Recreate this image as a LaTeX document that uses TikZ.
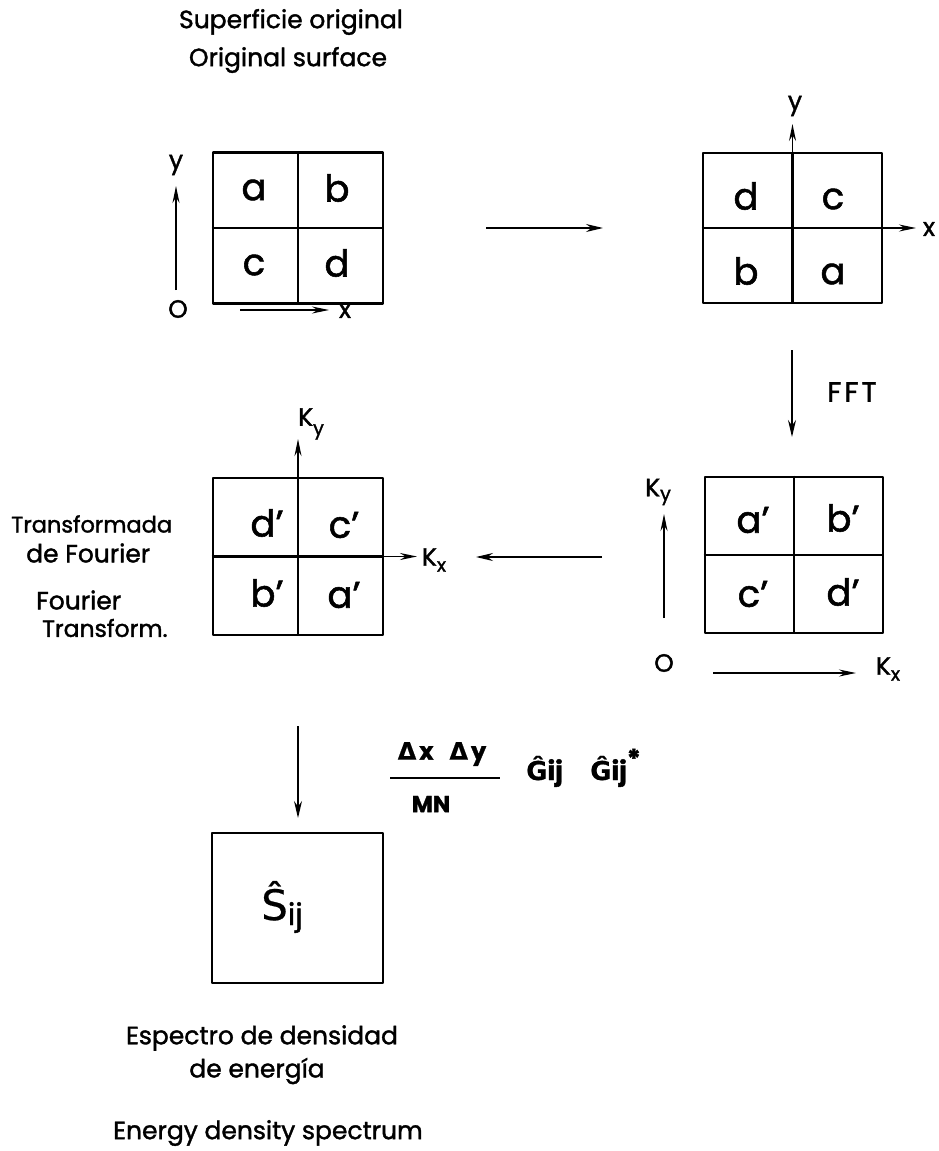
\documentclass[tikz,border=0pt]{standalone}
\usepackage{fontspec}
\setmainfont{Poppins}[FakeBold=1.5]
\newfontfamily\dv{DejaVu Sans}[FakeBold=0.5]
\usetikzlibrary{arrows.meta}
\tikzset{
  gridbox/.style={draw, line width=2.8pt, inner sep=0pt, line join=round},
  midline/.style={line width=2.3pt},
  cell/.style={font=\fontsize{37}{37}\selectfont, inner sep=0pt},
  axis/.style={line width=1.5pt, -{Stealth[length=17pt,width=7pt]}},
  flow/.style={line width=1.5pt, -{Stealth[length=17pt,width=8pt]}},
  lbl/.style={font=\fontsize{25}{28}\selectfont, inner sep=0pt},
  axlbl/.style={font=\fontsize{25}{25}\selectfont, inner sep=0pt},
  formula/.style={font=\fontsize{26}{26}\selectfont\bfseries, inner sep=0pt},
}
\newcommand{\sbx}{\fontsize{19}{19}\selectfont}
\begin{document}
\begin{tikzpicture}[x=1pt,y=-1pt]
\useasboundingbox (0,0) rectangle (938,1151);

% titles
\node[lbl] (t1) at (291,22) {Superficie original};
\node[lbl] (t2) at (288,60) {Original surface};

% grid A
\node[gridbox, minimum width=170pt, minimum height=151pt] (A) at (298,228) {};
\draw[midline] (A.north) -- (A.south);
\draw[midline] (A.west) -- (A.east);
\node[cell] (Aa) at (254,190) {a};
\node[cell] (Ab) at (337,188) {b};
\node[cell] (Ac) at (254,265) {c};
\node[cell] (Ad) at (337,263) {d};
\coordinate (Ay0) at (176,290);
\coordinate (Ay1) at (176,186);
\draw[axis] (Ay0) -- (Ay1);
\node[axlbl] (Aylbl) at (176,165) {y};
\node[axlbl] (AO) at (178,309) {O};
\coordinate (Ax0) at (240,310);
\coordinate (Ax1) at (329,310);
\draw[axis] (Ax0) -- (Ax1);
\node[axlbl] (Axlbl) at (345,311) {x};

% arrow A -> B
\coordinate (ab0) at (486,228);
\coordinate (ab1) at (603,228);
\draw[flow] (ab0) -- (ab1);

% grid B
\node[gridbox, minimum width=179pt, minimum height=150pt] (B) at (792.5,228) {};
\draw[midline] (B.north) -- (B.south);
\draw[midline] (B.west) -- (B.east);
\node[cell] (Bd) at (746,196) {d};
\node[cell] (Bc) at (833,199) {c};
\node[cell] (Bb) at (746,271) {b};
\node[cell] (Ba) at (833,274) {a};
\coordinate (By1) at (792.5,124);
\draw[axis] (B.north) -- (By1);
\node[axlbl] (Bylbl) at (795,106) {y};
\coordinate (Bx1) at (916,228);
\draw[axis] (B.east) -- (Bx1);
\node[axlbl] (Bxlbl) at (929,229) {x};

% FFT
\coordinate (f0) at (792,350);
\coordinate (f1) at (792,437);
\draw[flow] (f0) -- (f1);
\node[font=\fontsize{28}{28}\selectfont, inner sep=0pt] (fft) at (852,392) {F\kern3pt F\kern3pt T};

% grid D (right middle)
\node[gridbox, minimum width=178pt, minimum height=156pt] (D) at (794,555) {};
\draw[midline] (D.north) -- (D.south);
\draw[midline] (D.west) -- (D.east);
\node[cell] (Da) at (753,520) {a’};
\node[cell] (Db) at (843,518) {b’};
\node[cell] (Dc) at (753,594) {c’};
\node[cell] (Dd) at (843,592) {d’};
\coordinate (Dy0) at (664,618);
\coordinate (Dy1) at (664,514);
\draw[axis] (Dy0) -- (Dy1);
\node[axlbl] (Dylbl) at (658,492) {K\raisebox{-4pt}{\sbx y}};
\node[axlbl] (DO) at (664,663) {O};
\coordinate (Dx0) at (713,673);
\coordinate (Dx1) at (856,673);
\draw[axis] (Dx0) -- (Dx1);
\node[axlbl] (Dxlbl) at (888,669) {K\raisebox{-6pt}{\sbx x}};

% arrow D -> C
\coordinate (dc0) at (602,557);
\coordinate (dc1) at (476,557);
\draw[flow] (dc0) -- (dc1);

% grid C (left middle)
\node[gridbox, minimum width=170pt, minimum height=157pt] (C) at (298,556.5) {};
\draw[midline] (C.north) -- (C.south);
\draw[midline] (C.west) -- (C.east);
\node[cell] (Cd) at (267,523) {d’};
\node[cell] (Cc) at (344,525) {c’};
\node[cell] (Cb) at (267,593) {b’};
\node[cell] (Ca) at (344,595) {a’};
\coordinate (Cy1) at (298,439);
\draw[axis] (C.north) -- (Cy1);
\node[axlbl] (Cylbl) at (311,424) {K\raisebox{-9pt}{\sbx y}};
\coordinate (Cx1) at (417,556.5);
\draw[axis] (C.east) -- (Cx1);
\node[axlbl] (Cxlbl) at (434,560) {K\raisebox{-6pt}{\sbx x}};

\node[lbl, anchor=west, font=\fontsize{22.5}{25}\selectfont] (tf1a) at (11,524) {Transformada};
\node[lbl, anchor=west] (tf1b) at (26,553) {de Fourier};
\node[lbl, anchor=west] (tf2a) at (36,600) {Fourier};
\node[lbl, anchor=west, font=\fontsize{23.5}{25}\selectfont] (tf2b) at (42,628) {Transform.};

% arrow C -> E
\coordinate (ce0) at (298,726);
\coordinate (ce1) at (298,818);
\draw[flow] (ce0) -- (ce1);

% formula
\node[formula, font=\fontsize{24}{24}\selectfont\bfseries] (num) at (442,754) {{\dv Δ}\kern3pt x\kern16pt{\dv Δ}\kern3pt y};
\coordinate (bar0) at (390,778);
\coordinate (bar1) at (500,778);
\draw[line width=2.2pt] (bar0) -- (bar1);
\node[formula, font=\fontsize{23}{24}\selectfont\bfseries] (den) at (431,804) {MN};
\node[formula, anchor=base west] (G1) at (526,780) {{\dv Ĝ}ij};
\node[formula, anchor=base west] (G2) at (590,780) {{\dv Ĝ}ij\raisebox{12pt}{*}};

% box E
\node[gridbox, minimum width=171pt, minimum height=150pt] (E) at (297.5,908) {};
\node[inner sep=0pt, font=\fontsize{42}{42}\selectfont, anchor=base] (S) at (282,920) {{\dv Ŝ}\raisebox{-5pt}{\fontsize{30}{30}\selectfont ij}};

% bottom texts
\node[lbl] (es1) at (262,1038) {Espectro de densidad};
\node[lbl] (es2) at (257,1071) {de energía};
\node[lbl] (en) at (268,1133) {Energy density spectrum};
\end{tikzpicture}
\end{document}
